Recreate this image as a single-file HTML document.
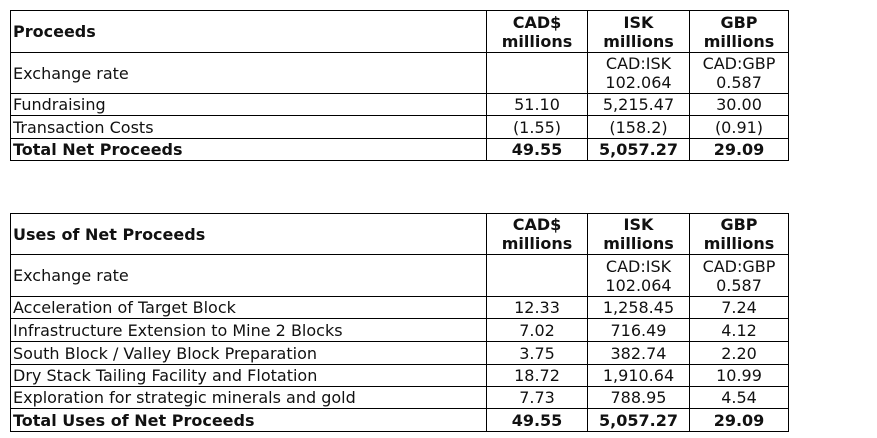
<!DOCTYPE html>
<html><head><style>
body{margin:0;width:877px;height:438px;background:#fff;position:relative;font-family:"DejaVu Sans","Liberation Sans",sans-serif;font-size:16px;color:#111;overflow:hidden}
.h{position:absolute;height:1px;background:#000}
.v{position:absolute;width:1px;background:#000}
.c{position:absolute;display:flex;align-items:center;line-height:19px;white-space:nowrap}
.l{padding-left:2px}
.m{justify-content:center;text-align:center}
b{font-weight:bold}
</style></head><body>
<div id="t1"></div>
<script>
function tbl(top,rows,data){
  const xs=[10,486,587,689,788];
  let html='';
  rows.forEach(y=>html+=`<div class="h" style="left:10px;width:779px;top:${y}px"></div>`);
  xs.forEach(x=>html+=`<div class="v" style="left:${x}px;top:${rows[0]}px;height:${rows[rows.length-1]-rows[0]+1}px"></div>`);
  data.forEach((r,i)=>{
    const y0=rows[i]+1,h=rows[i+1]-rows[i]-1;
    r.forEach((t,j)=>{
      const x0=xs[j]+1,w=xs[j+1]-xs[j]-1;
      html+=`<div class="c ${j==0?'l':'m'}" style="left:${x0}px;top:${y0}px;width:${w-(j==0?2:0)}px;height:${h}px"><div>${t}</div></div>`;
    });
  });
  return html;
}
const H=['<b>CAD$<br>millions</b>','<b>ISK<br>millions</b>','<b>GBP<br>millions</b>'];
const EX=['Exchange rate','','CAD:ISK<br>102.064','CAD:GBP<br>0.587'];
document.getElementById('t1').outerHTML=
tbl(0,[10,52,93,115,138,160],[
 ['<b>Proceeds</b>',...H],EX,
 ['Fundraising','51.10','5,215.47','30.00'],
 ['Transaction Costs','(1.55)','(158.2)','(0.91)'],
 ['<b>Total Net Proceeds</b>','<b>49.55</b>','<b>5,057.27</b>','<b>29.09</b>']
])+
tbl(0,[213,254,296,318,341,364,386,408,431],[
 ['<b>Uses of Net Proceeds</b>',...H],EX,
 ['Acceleration of Target Block','12.33','1,258.45','7.24'],
 ['Infrastructure Extension to Mine 2 Blocks','7.02','716.49','4.12'],
 ['South Block / Valley Block Preparation','3.75','382.74','2.20'],
 ['Dry Stack Tailing Facility and Flotation','18.72','1,910.64','10.99'],
 ['Exploration for strategic minerals and gold','7.73','788.95','4.54'],
 ['<b>Total Uses of Net Proceeds</b>','<b>49.55</b>','<b>5,057.27</b>','<b>29.09</b>']
]);
</script>
</body></html>
